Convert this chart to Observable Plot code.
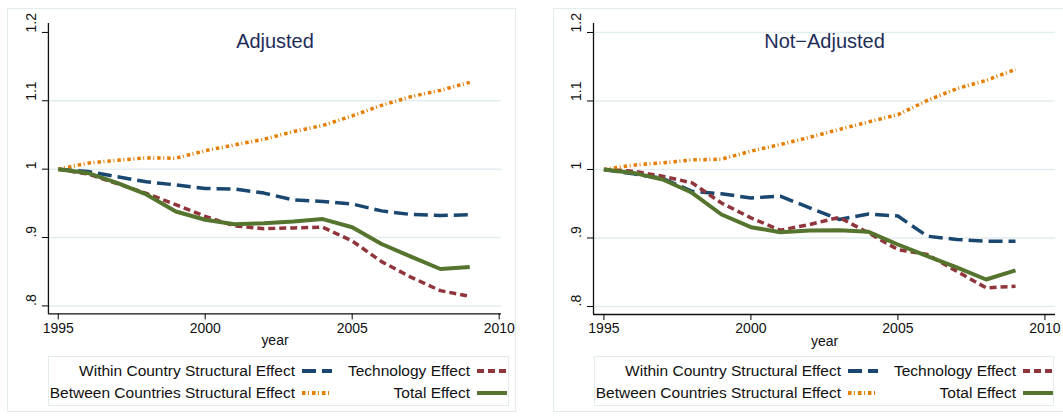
<!DOCTYPE html>
<html>
<head>
<meta charset="utf-8">
<script src="https://cdn.jsdelivr.net/npm/d3@7"></script>
<script src="https://cdn.jsdelivr.net/npm/@observablehq/plot@0.6"></script>
<style>
  body { margin: 0; width: 1063px; height: 416px; overflow: hidden; background: #fff; position: relative;
         font-family: "Liberation Sans", Arial, sans-serif; }
  .panel { position: absolute; border: 1px solid #e2ecee; box-sizing: border-box; }
  .legend { position: absolute; border: 1px solid #e2ecee; box-sizing: border-box; height: 50px;
            display: grid; grid-template-columns: 246px 37px 138px 37px; grid-auto-rows: 22px;
            padding-top: 3px; font-size: 15.5px; color: #111; }
  .legend .lab { text-align: right; white-space: nowrap; line-height: 22px; }
  .legend .key { padding-left: 7px; display: flex; align-items: center; }
</style>
</head>
<body>
<script>
const years = [1995, 1996, 1997, 1998, 1999, 2000, 2001, 2002, 2003, 2004, 2005, 2006, 2007, 2008, 2009];

// Adjusted panel
const adjWithin  = [1, 0.9965, 0.989, 0.9815, 0.977, 0.9717, 0.971, 0.965, 0.955, 0.9527, 0.949, 0.939, 0.9337, 0.9323, 0.9333];
const adjTech    = [1, 0.993, 0.979, 0.9645, 0.948, 0.931, 0.917, 0.913, 0.914, 0.915, 0.895, 0.8647, 0.842, 0.8223, 0.814];
const adjBetween = [1, 1.0088, 1.013, 1.0165, 1.016, 1.027, 1.0355, 1.0438, 1.055, 1.064, 1.0778, 1.0934, 1.106, 1.1153, 1.127];
const adjTotal   = [1, 0.9945, 0.98, 0.963, 0.938, 0.926, 0.9195, 0.921, 0.9235, 0.927, 0.915, 0.8905, 0.872, 0.854, 0.857];

// Not-Adjusted panel
const notWithin  = [1, 0.9936, 0.987, 0.968, 0.9645, 0.9585, 0.961, 0.944, 0.927, 0.935, 0.932, 0.9026, 0.8978, 0.8953, 0.8953];
const notTech    = [1, 0.9975, 0.99, 0.9805, 0.951, 0.9294, 0.9114, 0.9197, 0.93, 0.9075, 0.883, 0.876, 0.8515, 0.8272, 0.8296];
const notBetween = [1, 1.0063, 1.0097, 1.014, 1.015, 1.0267, 1.0365, 1.047, 1.0584, 1.0695, 1.08, 1.1007, 1.118, 1.13, 1.146];
const notTotal   = [1, 0.995, 0.9854, 0.966, 0.9343, 0.9158, 0.9085, 0.911, 0.9114, 0.909, 0.8905, 0.8734, 0.857, 0.8394, 0.8526];

const seriesNames = ["Within Country Structural Effect", "Technology Effect",
                     "Between Countries Structural Effect", "Total Effect"];
const xTicks = [1995, 2000, 2005, 2010];
const yTicks = [0.8, 0.9, 1, 1.1, 1.2];

const styles = [
  {stroke: "#1a476f", dash: "14,6", width: 3.5},
  {stroke: "#90353b", dash: "7,4", width: 3.5},
  {stroke: "#e37e00", dash: "3.5,2.5,1,3", width: 3.5},
  {stroke: "#55752f", dash: null, width: 4}
];

const yFmt = (d) => (d < 1 ? String(d).replace(/^0/, "") : String(d));

function drawPanel(cfg) {
  const panel = document.createElement("div");
  panel.className = "panel";
  Object.assign(panel.style, {left: cfg.left + "px", top: "8px", width: cfg.boxWidth + "px", height: "404px"});

  const marks = [
    Plot.ruleY(cfg.grid, {stroke: "#e2edef", strokeWidth: 1.5}),
    Plot.text([cfg.title], {frameAnchor: "top", dy: 10, fontSize: 20, fill: "#1e2d58"})
  ];

  cfg.series.forEach((values, i) => {
    const rows = years.map((year, j) => ({year, value: values[j]}));
    const s = styles[i];
    marks.push(Plot.line(rows, {
      x: "year", y: "value", stroke: s.stroke, strokeWidth: s.width,
      strokeDasharray: s.dash, strokeLinecap: "butt", strokeLinejoin: "round"
    }));
  });

  marks.push(
    Plot.ruleX([cfg.xDomain[0]], {stroke: "#111", strokeWidth: 1.3}),
    Plot.ruleY([cfg.yDomain[0]], {stroke: "#111", strokeWidth: 1.3}),
    Plot.axisX(xTicks, {anchor: "bottom", tickSize: 6, tickPadding: 3, fontSize: 14,
                        tickFormat: (d) => String(d), label: null, fill: "#111"}),
    Plot.axisY(yTicks, {anchor: "left", tickSize: 6, tickFormat: () => "", label: null}),
    Plot.text(yTicks, {y: (d) => d, text: yFmt, frameAnchor: "left", dx: -17,
                       rotate: -90, fontSize: 14, fill: "#111"}),
    Plot.text(["year"], {frameAnchor: "bottom", dy: 31, fontSize: 14, fill: "#111"})
  );

  const chart = Plot.plot({
    width: cfg.plotWidth,
    height: 345,
    marginLeft: cfg.marginLeft,
    marginRight: cfg.marginRight,
    marginTop: 14,
    marginBottom: 40,
    x: {domain: cfg.xDomain, axis: null},
    y: {domain: cfg.yDomain, axis: null},
    style: {fontFamily: '"Liberation Sans", Arial, sans-serif', background: "transparent", overflow: "visible"},
    marks
  });
  chart.style.position = "absolute";
  chart.style.left = "0px";
  chart.style.top = "0px";
  panel.appendChild(chart);

  const legend = document.createElement("div");
  legend.className = "legend";
  Object.assign(legend.style, {left: cfg.legendLeft + "px", top: "347px", width: cfg.legendWidth + "px"});
  seriesNames.forEach((name, i) => {
    const lab = document.createElement("div");
    lab.className = "lab";
    lab.textContent = name;
    const key = document.createElement("div");
    key.className = "key";
    const s = styles[i];
    key.innerHTML = `<svg width="30" height="8"><line x1="0" x2="30" y1="4" y2="4" stroke="${s.stroke}"
      stroke-width="4" ${s.dash ? `stroke-dasharray="${s.dash}"` : ""}></line></svg>`;
    legend.appendChild(lab);
    legend.appendChild(key);
  });
  panel.appendChild(legend);

  document.body.appendChild(panel);
}

drawPanel({
  title: "Adjusted",
  series: [adjWithin, adjTech, adjBetween, adjTotal],
  grid: [0.8, 0.9, 1, 1.1],
  left: 7, boxWidth: 509, plotWidth: 508,
  marginLeft: 40, marginRight: 14,
  xDomain: [1994.667, 2010.08],
  yDomain: [0.7883, 1.2131],
  legendLeft: 40, legendWidth: 461
});

drawPanel({
  title: "Not\u2212Adjusted",
  series: [notWithin, notTech, notBetween, notTotal],
  grid: [0.8, 0.9, 1, 1.1, 1.2],
  left: 553, boxWidth: 520, plotWidth: 510,
  marginLeft: 39, marginRight: 9,
  xDomain: [1994.646, 2010.36],
  yDomain: [0.7883, 1.2131],
  legendLeft: 40, legendWidth: 460
});
</script>
</body>
</html>
